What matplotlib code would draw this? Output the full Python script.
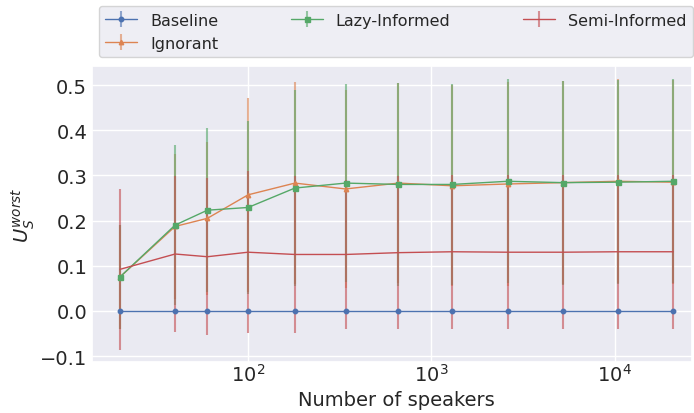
import matplotlib
matplotlib.use('Agg')
import matplotlib.pyplot as plt
import seaborn as sns
import numpy as np

speakers = [20, 40, 60, 100, 180, 340, 660, 1300, 2600, 5200, 10400, 20800]

baseline = [0.0] * 12
baseline_err = [0.0] * 12

ignorant = [0.075, 0.187, 0.205, 0.257, 0.283, 0.270, 0.283, 0.277, 0.281, 0.284, 0.287, 0.285]
ignorant_err = [0.115, 0.16, 0.17, 0.215, 0.224, 0.22, 0.222, 0.222, 0.225, 0.225, 0.226, 0.226]

lazy = [0.075, 0.190, 0.223, 0.229, 0.272, 0.283, 0.280, 0.280, 0.287, 0.284, 0.285, 0.287]
lazy_err = [0.115, 0.177, 0.181, 0.191, 0.216, 0.219, 0.225, 0.222, 0.226, 0.226, 0.226, 0.226]

semi = [0.092, 0.126, 0.120, 0.130, 0.125, 0.125, 0.129, 0.131, 0.130, 0.130, 0.131, 0.131]
semi_err = [0.178, 0.172, 0.174, 0.179, 0.174, 0.164, 0.169, 0.170, 0.170, 0.170, 0.170, 0.170]

sns.set_theme(style='darkgrid')
pal = sns.color_palette('deep')

fig = plt.figure(figsize=(6.94, 4.14), dpi=100)
ax = fig.add_axes([0.1326, 0.1232, 0.8644, 0.7148])

series = [
    ('Baseline', baseline, baseline_err, pal[0], 'o', 3.2),
    ('Ignorant', ignorant, ignorant_err, pal[1], '^', 3.2),
    ('Lazy-Informed', lazy, lazy_err, pal[2], 's', 3.6),
    ('Semi-Informed', semi, semi_err, pal[3], '', 0),
]
for name, vals, err, col, mk, ms in series:
    ax.errorbar(speakers, vals, yerr=err, color=col, marker=mk, markersize=ms,
                linewidth=1, elinewidth=1.5, ecolor=(*col, 0.6), label=name)

ax.set_xscale('log')
ax.set_xlim(14.1, 26300)
ax.set_ylim(-0.113, 0.542)
ax.set_yticks([-0.1, 0.0, 0.1, 0.2, 0.3, 0.4, 0.5])
ax.tick_params(axis='both', labelsize=14)
ax.tick_params(axis='x', pad=1, length=0)
ax.tick_params(axis='y', length=0)
ax.set_xlabel('Number of speakers', fontsize=14)
ax.set_ylabel('$U_S^{worst}$', fontsize=14)
ax.xaxis.set_label_coords(0.508, -0.094)
ax.yaxis.set_label_coords(-0.092, 0.5)

fig.legend(loc='lower left', ncol=3, mode='expand', borderaxespad=0,
           bbox_to_anchor=(99/694, 1-58/414, 594/694, 50/414),
           fontsize=11.5, frameon=True)

fig.savefig('out.png', dpi=100)
